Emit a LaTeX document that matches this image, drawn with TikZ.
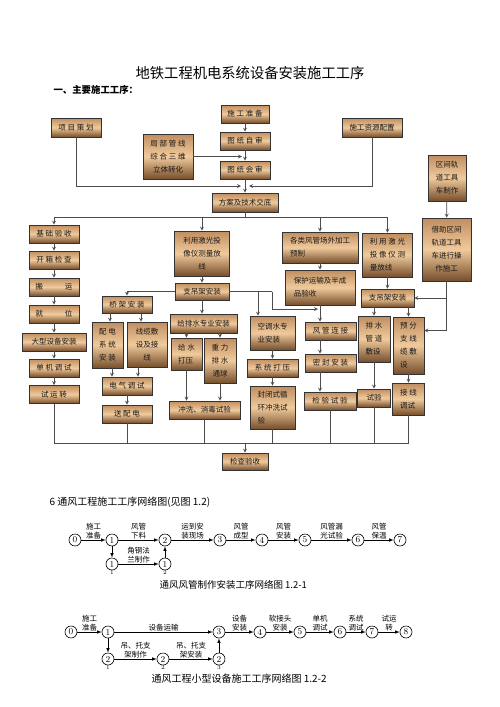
\documentclass[tikz,border=0pt]{standalone}
\usepackage{fontspec}
\newfontfamily\cjk{Noto Sans CJK SC}
\definecolor{boxtop}{RGB}{192,142,96}
\definecolor{boxmid}{RGB}{240,202,156}
\definecolor{boxbot}{RGB}{118,78,44}
\begin{document}
\begin{tikzpicture}[x=1pt, y=-1pt,
    proc/.style={rectangle, draw=black!80, line width=0.6pt,
                 top color=boxtop, bottom color=boxbot, middle color=boxmid,
                 font=\cjk\fontsize{7.5}{13}\selectfont, text=black!90,
                 inner sep=1pt, align=center},
    conn/.style={draw=black!70, line width=0.8pt},
    arr/.style={conn, ->, >=stealth},
    evt/.style={circle, draw, line width=0.6pt, minimum size=12pt,
                inner sep=0pt, font=\fontsize{9}{9}\selectfont},
    narr/.style={->, >=latex, line width=0.6pt},
    lab/.style={font=\cjk\fontsize{7.5}{9}\selectfont, above, midway,
                align=center, inner sep=1pt},
    sub/.style={font=\fontsize{6}{6}\selectfont, inner sep=0pt},
  ]
  \useasboundingbox (0,0) rectangle (500,707);

  % Headings
  \node[font=\cjk\fontsize{14.3}{16}\selectfont] (title) at (250,73)
    {地铁工程机电系统设备安装施工工序};
  \node[font=\cjk\bfseries\fontsize{9.4}{11}\selectfont, anchor=west]
    (sec1) at (50,90) {一、主要施工工序：};

  % Preparation boxes
  \node[proc, minimum width=50, minimum height=19] (xmch) at (76,127.5) {项 目 策 划};
  \node[proc, minimum width=50, minimum height=45] (jbgx) at (168,156.5)
    {局 部 管 线\\综 合 三 维\\立体转化};
  \node[proc, minimum width=48, minimum height=18] (sgzb) at (245,114) {施 工 准 备};
  \node[proc, minimum width=50, minimum height=18] (tzzs) at (245,141) {图 纸 自 审};
  \node[proc, minimum width=50, minimum height=18] (tzhs) at (245,170) {图 纸 会 审};
  \node[proc, minimum width=66, minimum height=19] (fajd) at (245,202.5) {方案及技术交底};
  \node[proc, minimum width=60, minimum height=19] (zypz) at (372,127.5) {施工资源配置};
  \node[proc, minimum width=38, minimum height=46] (gjzz) at (447,178)
    {区间轨\\道工具\\车制作};

  % Equipment column
  \node[proc, minimum width=50, minimum height=18] (jcys) at (54,234) {基 础 验 收};
  \node[proc, minimum width=50, minimum height=18] (kxjc) at (54,260) {开 箱 检 查};
  \node[proc, minimum width=50, minimum height=18] (by)   at (54,287) {搬\hspace{22pt}运};
  \node[proc, minimum width=50, minimum height=18] (jw)   at (54,314) {就\hspace{22pt}位};
  \node[proc, minimum width=64, minimum height=18] (dxaz) at (54,342) {大型设备安装};
  \node[proc, minimum width=50, minimum height=18] (djts) at (54,368) {单 机 调 试};
  \node[proc, minimum width=50, minimum height=18] (syz)  at (54,394.5) {试 运 转};

  % Support and electrical
  \node[proc, minimum width=55, minimum height=45] (jgfx1) at (202,253.5)
    {利用激光投\\像仪测量放\\线};
  \node[proc, minimum width=54, minimum height=17] (zdj1) at (202,291.5) {支吊架安装};
  \node[proc, minimum width=50, minimum height=17] (qjaz) at (127,304.5) {桥 架 安 装};
  \node[proc, minimum width=31, minimum height=46] (pdaz) at (107.5,345)
    {配 电\\系 统\\安 装};
  \node[proc, minimum width=40, minimum height=45] (xlfs) at (147,344.5)
    {线缆敷\\设及接\\线};
  \node[proc, minimum width=50, minimum height=18] (dqts) at (127,386) {电 气 调 试};
  \node[proc, minimum width=50, minimum height=18] (spd)  at (127,414) {送 配 电};

  % Water supply and drainage
  \node[proc, minimum width=67, minimum height=19] (gpsaz) at (203.5,323.5) {给排水专业安装};
  \node[proc, minimum width=31, minimum height=32, align=left] (gsdy) at (186.5,354)
    {给 水\\打压};
  \node[proc, minimum width=32, minimum height=45] (zlts) at (220,360.5)
    {重 力\\排 水\\通球};
  \node[proc, minimum width=71, minimum height=18] (cxsy) at (204.5,410) {冲洗、消毒试验};

  % Air conditioning water
  \node[proc, minimum width=45, minimum height=34, align=left] (ktaz) at (272.5,333)
    {空调水专\\业安装};
  \node[proc, minimum width=51, minimum height=18] (xtdy) at (272.5,368) {系 统 打 压};
  \node[proc, minimum width=45, minimum height=43, align=left] (fbcx) at (272.5,407.5)
    {封闭式循\\环冲洗试\\验};

  % Ductwork
  \node[proc, minimum width=76, minimum height=31, align=left] (fgyz) at (320,247.5)
    {各类风管场外加工\\预制};
  \node[proc, minimum width=70, minimum height=35, align=left] (bhys) at (320,287.5)
    {保护运输及半成\\品验收};
  \node[proc, minimum width=51, minimum height=18] (fglj) at (330.5,331) {风 管 连 接};
  \node[proc, minimum width=51, minimum height=18] (mfaz) at (330.5,363) {密 封 安 装};
  \node[proc, minimum width=52, minimum height=18] (jysy) at (330,401) {检 验 试 验};

  % Tunnel section
  \node[proc, minimum width=50, minimum height=44, align=left] (jgfx2) at (387.5,255)
    {利 用 激 光\\投 像 仪 测\\量放线};
  \node[proc, minimum width=53, minimum height=18] (zdj2) at (387.5,298) {支吊架安装};
  \node[proc, minimum width=49, minimum height=63] (jzsg) at (446.5,249.5)
    {借助区间\\轨道工具\\车进行操\\作施工};
  \node[proc, minimum width=32, minimum height=46, align=left] (psgd) at (374,339)
    {排 水\\管 道\\敷设};
  \node[proc, minimum width=31, minimum height=57, align=left] (yfzx) at (408.5,345.5)
    {预 分\\支 线\\缆 敷\\设};
  \node[proc, minimum width=33, minimum height=18] (sy) at (374,398) {试验};
  \node[proc, minimum width=32, minimum height=32, align=left] (jxts) at (408.5,399)
    {接 线\\调试};

  % Final check
  \node[proc, minimum width=46, minimum height=17] (jcys2) at (245,461.5) {检查验收};

  % Top connectors
  \coordinate (mL) at (241,186);
  \coordinate (mR) at (249,186);
  \coordinate (jb) at (242,156.5);
  \draw[arr] (sgzb) -- (tzzs);
  \draw[arr] (tzzs) -- (tzhs);
  \draw[arr] (tzhs) -- (fajd);
  \draw[arr] (jbgx) -- (jb);
  \draw[arr] (xmch.south) |- (mL);
  \draw[arr] (zypz.south) |- (mR);
  \draw[arr] (gjzz) -- (jzsg);

  % Branches from the briefing
  \coordinate (br) at (245,217);
  \draw[conn] (fajd.south) -- (br);
  \draw[arr] (br) -| (jcys.north);
  \draw[arr] (br) -| (jgfx1.north);
  \draw[arr] (br) -| (fgyz.north);
  \draw[arr] (br) -| (jgfx2.north);

  % Equipment column
  \draw[arr] (jcys) -- (kxjc);
  \draw[arr] (kxjc) -- (by);
  \draw[arr] (by) -- (jw);
  \draw[arr] (jw) -- (dxaz);
  \draw[arr] (dxaz) -- (djts);
  \draw[arr] (djts) -- (syz);

  % Supports
  \coordinate (kt) at (258,291.5);
  \coordinate (fj) at (272,291.5);
  \coordinate (fn) at (318,309);
  \draw[arr] (jgfx1) -- (zdj1);
  \draw[arr] (zdj1.south) -- (zdj1.south |- gpsaz.north);
  \draw[arr] (zdj1.west) -| (qjaz.north);
  \draw[conn] (zdj1.east) -- (fj);
  \draw[arr] (kt) -- (kt |- ktaz.north);
  \draw[arr] (fj) |- (fn);

  % Electrical
  \draw[arr] ([xshift=-17pt]qjaz.south) -- ([xshift=-17pt]qjaz.south |- pdaz.north);
  \draw[arr] ([xshift=14pt]qjaz.south) -- ([xshift=14pt]qjaz.south |- xlfs.north);
  \draw[arr] ([xshift=-15pt]dqts.north |- pdaz.south) -- ([xshift=-15pt]dqts.north);
  \draw[arr] ([xshift=11pt]dqts.north |- xlfs.south) -- ([xshift=11pt]dqts.north);
  \draw[arr] (dqts) -- (spd);

  % Water
  \draw[arr] (gsdy.north |- gpsaz.south) -- (gsdy.north);
  \draw[arr] (zlts.north |- gpsaz.south) -- (zlts.north);
  \draw[arr] (gsdy.south) -- (gsdy.south |- cxsy.north);
  \draw[arr] (zlts.south) -- (zlts.south |- cxsy.north);
  \draw[arr] (ktaz) -- (xtdy);
  \draw[arr] (xtdy) -- (fbcx);

  % Ductwork
  \draw[arr] (fgyz) -- (bhys);
  \draw[arr] (bhys.south) -- (bhys.south |- fglj.north);
  \draw[arr] (fglj.south -| bhys.south) -- (mfaz.north -| bhys.south);
  \draw[arr] (mfaz.south -| bhys.south) -- (jysy.north -| bhys.south);

  % Tunnel section
  \draw[arr] (jgfx2) -- (zdj2);
  \draw[arr] (psgd.north |- zdj2.south) -- (psgd.north);
  \draw[arr] (yfzx.north |- zdj2.south) -- (yfzx.north);
  \draw[arr] (psgd) -- (sy);
  \draw[arr] (yfzx) -- (jxts);
  \draw[arr] (jzsg.south) |- (zdj2.east);
  \draw[arr] (jzsg.south) |- ([yshift=15pt]yfzx.east);

  % Collecting line to final check
  \coordinate (bus) at (245,443);
  \draw[conn] (syz.south) |- (bus);
  \draw[conn] (jxts.south) |- (bus);
  \draw[conn] (spd.south) -- (spd.south |- bus);
  \draw[conn] (cxsy.south) -- (cxsy.south |- bus);
  \draw[conn] (fbcx.south) -- (fbcx.south |- bus);
  \draw[conn] (jysy.south) -- (jysy.south |- bus);
  \draw[conn] (sy.south) -- (sy.south |- bus);
  \draw[arr] (bus) -- (jcys2.north);

  % Network diagram 1.2-1
  \node[font=\cjk\fontsize{10}{12}\selectfont, anchor=west] (sec6) at (46,502)
    {6 通风工程施工工序网络图(见图 1.2)};
  \node[evt] (n0) at (75,540) {0};
  \node[evt] (n1) at (112,540) {1};
  \node[evt] (n2) at (165,540) {2};
  \node[evt] (n3) at (220,540) {3};
  \node[evt] (n4) at (262,540) {4};
  \node[evt] (n5) at (305,540) {5};
  \node[evt] (n6) at (358,540) {6};
  \node[evt] (n7) at (400,540) {7};
  \node[evt, label={[sub]below:1}] (p1) at (112,564) {1};
  \node[evt, label={[sub]below:2}] (p2) at (165,564) {1};
  \draw[narr] (n0) -- node[lab] {施工\\准备} (n1);
  \draw[narr] (n1) -- node[lab] {风管\\下料} (n2);
  \draw[narr] (n2) -- node[lab] {运到安\\装现场} (n3);
  \draw[narr] (n3) -- node[lab] {风管\\成型} (n4);
  \draw[narr] (n4) -- node[lab] {风管\\安装} (n5);
  \draw[narr] (n5) -- node[lab] {风管漏\\光试验} (n6);
  \draw[narr] (n6) -- node[lab] {风管\\保温} (n7);
  \draw[narr] (n1) -- (p1);
  \draw[narr] (p1) -- node[lab] {角钢法\\兰制作} (p2);
  \draw[narr] (p2) -- (n2);
  \node[font=\cjk\fontsize{9.5}{11}\selectfont, anchor=west] (cap1) at (156,585)
    {通风风管制作安装工序网络图 1.2-1};

  % Network diagram 1.2-2
  \node[evt] (m0) at (71,632) {0};
  \node[evt] (m1) at (108,632) {1};
  \node[evt] (m3) at (219,632) {3};
  \node[evt] (m4) at (260,632) {4};
  \node[evt] (m5) at (300,632) {5};
  \node[evt] (m6) at (340,632) {6};
  \node[evt] (m7) at (372,632) {7};
  \node[evt] (m8) at (406,632) {8};
  \node[evt, label={[sub]below:1}] (q1) at (108,659) {2};
  \node[evt, label={[sub]below:2}] (q2) at (163,659) {2};
  \node[evt, label={[sub]below:3}] (q3) at (219,659) {2};
  \draw[narr] (m0) -- node[lab] {施工\\准备} (m1);
  \draw[narr] (m1) -- node[lab] {设备运输} (m3);
  \draw[narr] (m3) -- node[lab] {设备\\安装} (m4);
  \draw[narr] (m4) -- node[lab] {软接头\\安装} (m5);
  \draw[narr] (m5) -- node[lab] {单机\\调试} (m6);
  \draw[narr] (m6) -- node[lab] {系统\\调试} (m7);
  \draw[narr] (m7) -- node[lab] {试运\\转} (m8);
  \draw[narr] (m1) -- (q1);
  \draw[narr] (q1) -- node[lab] {吊、托支\\架制作} (q2);
  \draw[narr] (q2) -- node[lab] {吊、托支\\架安装} (q3);
  \draw[narr] (q3) -- (m3);
  \node[font=\cjk\fontsize{10}{12}\selectfont, anchor=west] (cap2) at (148,679)
    {通风工程小型设备施工工序网络图 1.2-2};

\end{tikzpicture}
\end{document}
